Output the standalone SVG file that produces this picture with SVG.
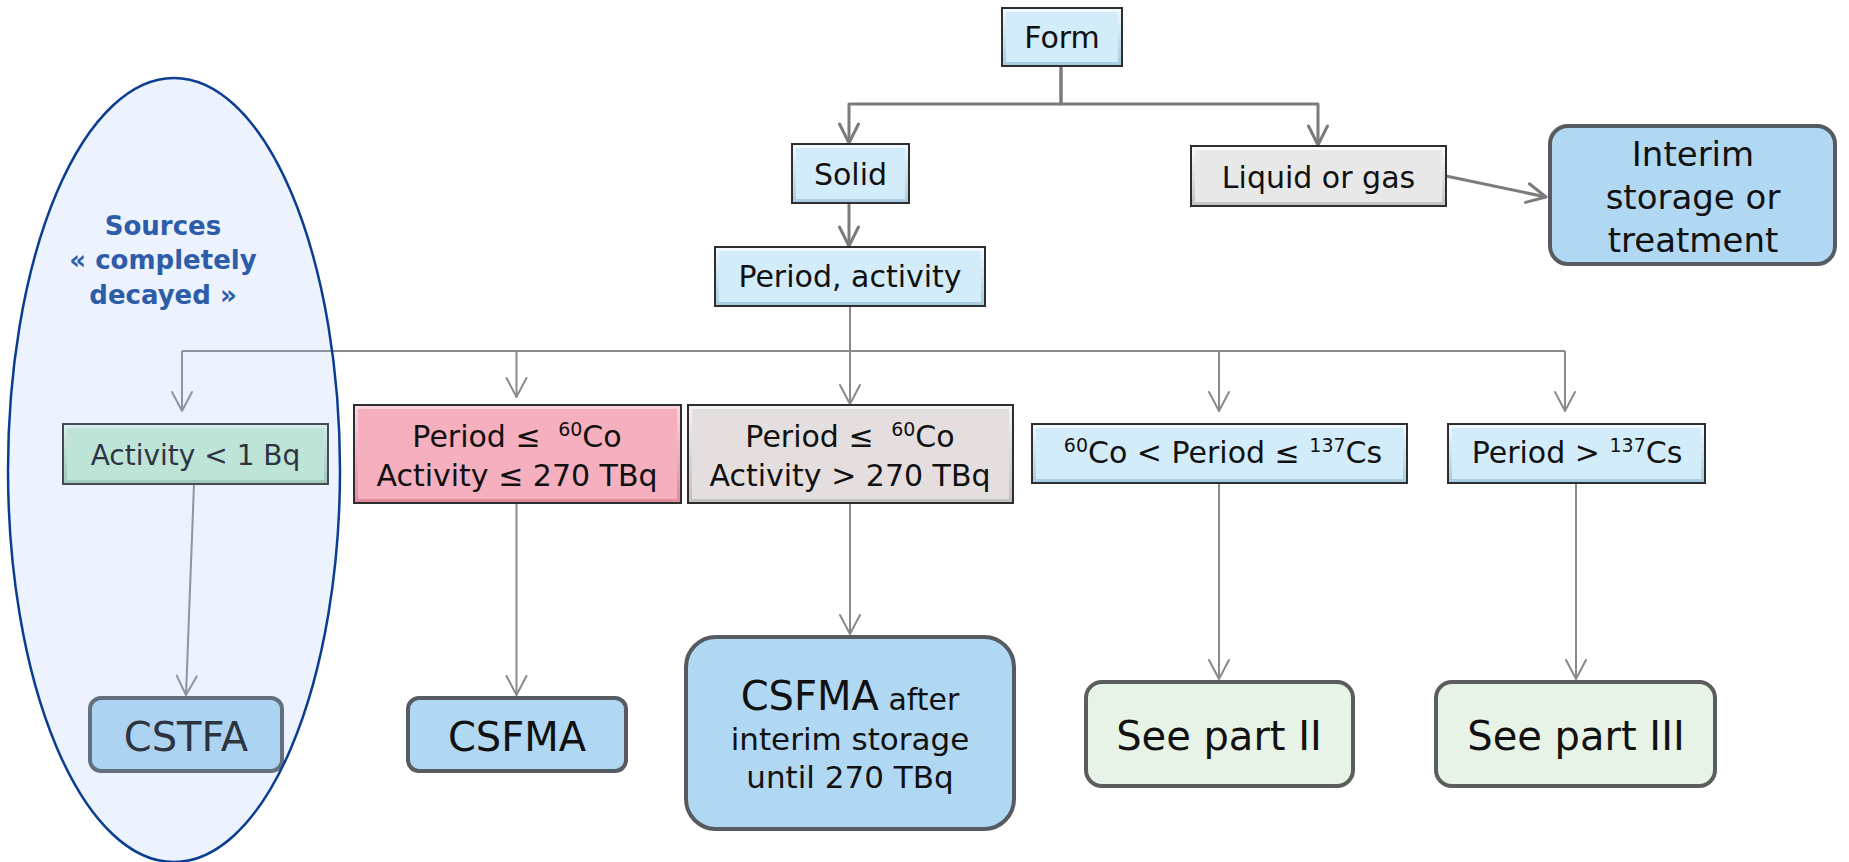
<svg xmlns="http://www.w3.org/2000/svg" width="1849" height="862" viewBox="0 0 1849 862">
  <defs>
    <style>
      .lbl { font-family: "DejaVu Sans", "Liberation Sans", sans-serif; fill: #111; text-anchor: middle; }
      .s30 { font-size: 30px; }
      .s28 { font-size: 28px; }
      .s34 { font-size: 34px; }
      .s40 { font-size: 40px; }
      .frame { stroke: #2e2e2e; stroke-width: 2; }
      .round { stroke-width: 4; }
      .rblue { fill: #b1d8f2; stroke: #555b60; }
      .rgreen { fill: #e6f3e6; stroke: #595e5a; }
      .edge { fill: none; stroke-linejoin: round; }
      .thick { stroke: #7b7b7b; stroke-width: 3; marker-end: url(#arrThick); }
      .thin { stroke: #8a8a8a; stroke-width: 2; marker-end: url(#arrThin); }
      .plain { stroke: #7b7b7b; stroke-width: 3; }
      .plainThin { stroke: #8a8a8a; stroke-width: 2; }
      .note { font-family: "DejaVu Sans", "Liberation Sans", sans-serif; font-weight: bold; font-size: 26px; fill: #2d5ca8; text-anchor: middle; }
    </style>
    <!-- bevel gradients for the rectangular decision boxes -->
    <linearGradient id="gBlue" x1="0" y1="0" x2="0" y2="1">
      <stop offset="0" stop-color="#f2faff"/>
      <stop offset="1" stop-color="#a6cbe2"/>
    </linearGradient>
    <linearGradient id="gGrey" x1="0" y1="0" x2="0" y2="1">
      <stop offset="0" stop-color="#fcfcfc"/>
      <stop offset="1" stop-color="#c2c2c2"/>
    </linearGradient>
    <linearGradient id="gGreen" x1="0" y1="0" x2="0" y2="1">
      <stop offset="0" stop-color="#e6f8ea"/>
      <stop offset="1" stop-color="#9fcaab"/>
    </linearGradient>
    <linearGradient id="gRed" x1="0" y1="0" x2="0" y2="1">
      <stop offset="0" stop-color="#fdd6df"/>
      <stop offset="1" stop-color="#df8a9c"/>
    </linearGradient>
    <linearGradient id="gWarm" x1="0" y1="0" x2="0" y2="1">
      <stop offset="0" stop-color="#f6f3f2"/>
      <stop offset="1" stop-color="#c4bdbc"/>
    </linearGradient>
    <marker id="arrThick" markerUnits="userSpaceOnUse" markerWidth="24" markerHeight="24" refX="21" refY="12" orient="auto">
      <path d="M2,2.5 L21,12 L2,21.5" fill="none" stroke="#7b7b7b" stroke-width="3" stroke-linejoin="round" stroke-linecap="round"/>
    </marker>
    <marker id="arrThin" markerUnits="userSpaceOnUse" markerWidth="24" markerHeight="24" refX="21" refY="12" orient="auto">
      <path d="M2,2 L21,12 L2,22" fill="none" stroke="#8a8a8a" stroke-width="2" stroke-linejoin="round" stroke-linecap="round"/>
    </marker>
  </defs>

  <rect x="0" y="0" width="1849" height="862" fill="#ffffff"/>

  <!-- connectors -->
  <g id="connectors">
    <path class="edge thick" d="M1061,66 V104 H849 V143"/>
    <path class="edge thick" d="M1061,66 V104 H1318 V145"/>
    <path class="edge thick" d="M849,203 V246"/>
    <path class="edge thick" d="M1446,176 L1546,197"/>

    <path class="edge plainThin" d="M850,306 V351"/>
    <path class="edge plainThin" d="M182,351 H1565"/>
    <path class="edge thin" d="M182,351 V411"/>
    <path class="edge thin" d="M516.5,351 V397"/>
    <path class="edge thin" d="M850,351 V404"/>
    <path class="edge thin" d="M1219,351 V411"/>
    <path class="edge thin" d="M1565,351 V411"/>

    <path class="edge thin" d="M194,484 L186,695"/>
    <path class="edge thin" d="M516.5,503 V695"/>
    <path class="edge thin" d="M850,503 V634"/>
    <path class="edge thin" d="M1219,483 V679"/>
    <path class="edge thin" d="M1576,483 V679"/>
  </g>

  <!-- decision boxes -->
  <g id="form">
    <rect class="frame" x="1002" y="8" width="120" height="58" fill="url(#gBlue)"/>
    <rect x="1006" y="12" width="112" height="50" fill="#d3ecfa"/>
    <text class="lbl s30" x="1062" y="48">Form</text>
  </g>

  <g id="solid">
    <rect class="frame" x="792" y="144" width="117" height="59" fill="url(#gBlue)"/>
    <rect x="796" y="148" width="109" height="51" fill="#d3ecfa"/>
    <text class="lbl s30" x="850.5" y="185">Solid</text>
  </g>

  <g id="liquid-gas">
    <rect class="frame" x="1191" y="146" width="255" height="60" fill="url(#gGrey)"/>
    <rect x="1195" y="150" width="247" height="52" fill="#e8e8e8"/>
    <text class="lbl s30" x="1318.5" y="188">Liquid or gas</text>
  </g>

  <g id="interim">
    <rect class="round rblue" x="1550" y="126" width="285" height="138" rx="18"/>
    <text class="lbl s34" x="1693" y="166">Interim</text>
    <text class="lbl s34" x="1693" y="209">storage or</text>
    <text class="lbl s34" x="1693" y="252">treatment</text>
  </g>

  <g id="period-activity">
    <rect class="frame" x="715" y="247" width="270" height="59" fill="url(#gBlue)"/>
    <rect x="719" y="251" width="262" height="51" fill="#d3ecfa"/>
    <text class="lbl s30" x="850" y="287">Period, activity</text>
  </g>

  <g id="activity-low">
    <rect class="frame" x="63" y="424" width="265" height="60" fill="url(#gGreen)"/>
    <rect x="67" y="428" width="257" height="52" fill="#c6ebcf"/>
    <text class="lbl s28" x="195.5" y="465" fill="#24302a">Activity &lt; 1 Bq</text>
  </g>

  <g id="co60-low-activity">
    <rect class="frame" x="354" y="405" width="327" height="98" fill="url(#gRed)"/>
    <rect x="358" y="409" width="319" height="90" fill="#f6afbe"/>
    <text class="lbl s30" x="517" y="447">Period ≤ <tspan dx="8" font-size="19" dy="-11">60</tspan><tspan dy="11">Co</tspan></text>
    <text class="lbl s30" x="517" y="486">Activity ≤ 270 TBq</text>
  </g>

  <g id="co60-high-activity">
    <rect class="frame" x="688" y="405" width="325" height="98" fill="url(#gWarm)"/>
    <rect x="692" y="409" width="317" height="90" fill="#e4dfde"/>
    <text class="lbl s30" x="850" y="447">Period ≤ <tspan dx="8" font-size="19" dy="-11">60</tspan><tspan dy="11">Co</tspan></text>
    <text class="lbl s30" x="850" y="486">Activity &gt; 270 TBq</text>
  </g>

  <g id="co60-cs137">
    <rect class="frame" x="1032" y="424" width="375" height="59" fill="url(#gBlue)"/>
    <rect x="1036" y="428" width="367" height="51" fill="#d3ecfa"/>
    <text class="lbl s30" x="1223" y="463"><tspan font-size="19" dy="-11">60</tspan><tspan dy="11">Co &lt; Period ≤ </tspan><tspan font-size="19" dy="-11">137</tspan><tspan dy="11">Cs</tspan></text>
  </g>

  <g id="above-cs137">
    <rect class="frame" x="1448" y="424" width="257" height="59" fill="url(#gBlue)"/>
    <rect x="1452" y="428" width="249" height="51" fill="#d3ecfa"/>
    <text class="lbl s30" x="1577" y="463">Period &gt; <tspan font-size="19" dy="-11">137</tspan><tspan dy="11">Cs</tspan></text>
  </g>

  <!-- outcome boxes -->
  <g id="cstfa">
    <rect class="round rblue" x="90" y="698" width="192" height="73" rx="11"/>
    <text class="lbl s40" x="186" y="751">CSTFA</text>
  </g>

  <g id="csfma">
    <rect class="round rblue" x="408" y="698" width="218" height="73" rx="11"/>
    <text class="lbl s40" x="517" y="751">CSFMA</text>
  </g>

  <g id="csfma-interim">
    <rect class="round rblue" x="686" y="637" width="328" height="192" rx="30"/>
    <text class="lbl s40" x="850" y="710">CSFMA<tspan font-size="30"> after</tspan></text>
    <text class="lbl" x="850" y="750" font-size="31">interim storage</text>
    <text class="lbl" x="850" y="788" font-size="31">until 270 TBq</text>
  </g>

  <g id="part-2">
    <rect class="round rgreen" x="1086" y="682" width="267" height="104" rx="16"/>
    <text class="lbl s40" x="1219" y="750">See part II</text>
  </g>

  <g id="part-3">
    <rect class="round rgreen" x="1436" y="682" width="279" height="104" rx="16"/>
    <text class="lbl s40" x="1576" y="750">See part III</text>
  </g>

  <!-- translucent grouping around fully decayed sources -->
  <g id="decayed-sources">
    <ellipse cx="174" cy="470" rx="166" ry="392" fill="#a0c3fa" fill-opacity="0.2" stroke="#0b3d91" stroke-width="2.5"/>
    <text class="note" x="163" y="235">Sources</text>
    <text class="note" x="163" y="269">« completely</text>
    <text class="note" x="163" y="304">decayed »</text>
  </g>
</svg>
